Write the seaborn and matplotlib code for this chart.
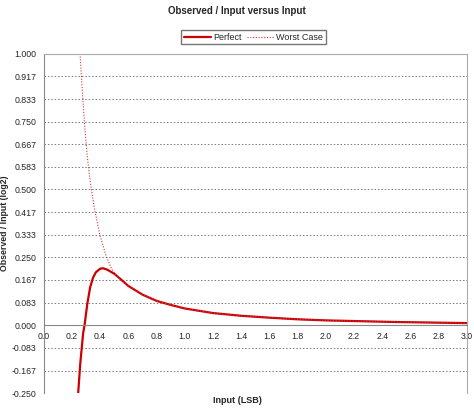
import matplotlib
matplotlib.use("Agg")
import matplotlib.pyplot as plt
import seaborn as sns
import pandas as pd

perfect_x = [0.245, 0.26, 0.28, 0.29, 0.31, 0.33, 0.35, 0.37, 0.40, 0.42, 0.45, 0.50, 0.55, 0.60, 0.70, 0.80, 0.90, 1.00, 1.20, 1.40, 1.60, 1.80, 2.00, 2.50, 3.00]
perfect_y = [-0.25, -0.14, -0.03, 0.0, 0.08, 0.14, 0.175, 0.195, 0.208, 0.21, 0.205, 0.19, 0.168, 0.145, 0.113, 0.09, 0.075, 0.062, 0.045, 0.035, 0.028, 0.022, 0.018, 0.012, 0.008]
worst_x = [0.258, 0.27, 0.29, 0.31, 0.33, 0.36, 0.40, 0.44, 0.48, 0.52, 0.56, 0.60, 0.70, 0.80, 0.90, 1.00, 1.20, 1.40, 1.60, 1.80, 2.00, 2.50, 3.00]
worst_y = [1.0, 0.90, 0.74, 0.62, 0.53, 0.43, 0.33, 0.26, 0.21, 0.18, 0.16, 0.145, 0.113, 0.09, 0.075, 0.062, 0.045, 0.035, 0.028, 0.022, 0.018, 0.012, 0.008]
y_ticks = [-0.25, -0.167, -0.083, 0.0, 0.083, 0.167, 0.25, 0.333, 0.417, 0.5, 0.583, 0.667, 0.75, 0.833, 0.917, 1.0]
x_ticks = [0.0, 0.2, 0.4, 0.6, 0.8, 1.0, 1.2, 1.4, 1.6, 1.8, 2.0, 2.2, 2.4, 2.6, 2.8, 3.0]

df = pd.concat([
    pd.DataFrame({"x": perfect_x, "y": perfect_y, "s": "Perfect"}),
    pd.DataFrame({"x": worst_x, "y": worst_y, "s": "Worst Case"}),
])

sns.set_style("white")
plt.rcParams['font.family'] = ['Liberation Sans', 'DejaVu Sans']
fig = plt.figure(figsize=(4.74, 4.13), dpi=100)
ax = fig.add_axes([0.092, 0.048, 0.893, 0.822])
sns.lineplot(data=df, x="x", y="y", hue="s", style="s",
             palette={"Perfect": "#cc0000", "Worst Case": "#cc3344"},
             dashes={"Perfect": "", "Worst Case": (1, 1.5)},
             ax=ax, legend=False, sort=False)
ax.lines[0].set_linewidth(1.6)
ax.lines[1].set_linewidth(0.8)
ax.spines['bottom'].set_position(('data', 0))
ax.set_xlim(0, 3.0)
ax.set_ylim(-0.25, 1.0)
ax.set_yticks(y_ticks)
ax.set_yticklabels([f"{v:.3f}" for v in y_ticks])
ax.set_xticks(x_ticks)
ax.set_xticklabels([f"{v:.1f}" for v in x_ticks])
ax.tick_params(axis='both', labelsize=6.3, length=3, width=0.7, color='#888888', pad=2, direction='out')
for v in y_ticks:
    if v not in (0.0, -0.25, 1.0):
        ax.axhline(v, color="#777777", lw=0.7, ls=(0, (1.5, 2)), zorder=0)
for s in ['top', 'right']:
    ax.spines[s].set_color('#aaaaaa')
ax.spines['left'].set_color('#888888')
ax.spines['bottom'].set_color('#888888')
ax.set_xlabel("")
ax.set_ylabel("Observed / Input (log2)", fontsize=6.3, fontweight='bold', labelpad=2)
fig.text(0.5, 0.025, "Input (LSB)", ha='center', fontsize=6.5, fontweight='bold')
fig.text(0.5, 0.967, "Observed / Input versus Input", ha='center', fontsize=7, fontweight='bold')
from matplotlib.lines import Line2D
handles = [Line2D([], [], color="#cc0000", lw=1.6),
           Line2D([], [], color="#cc3344", lw=0.8, ls=(0, (1, 1.5)))]
fig.legend(handles, ["Perfect", "Worst Case"], loc='center', bbox_to_anchor=(0.535, 0.91),
           ncol=2, fontsize=6.5, frameon=True, fancybox=False, edgecolor='#555555',
           handlelength=3, columnspacing=0.5, handletextpad=0.3, borderpad=0.3)
fig.savefig("out.png", dpi=100)
